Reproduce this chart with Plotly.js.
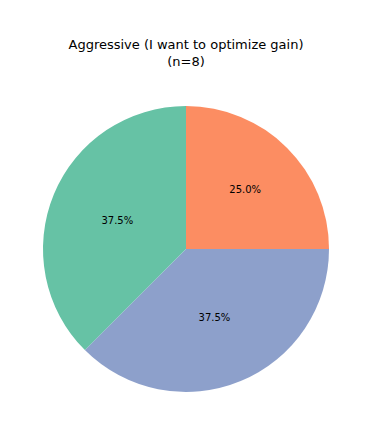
<!DOCTYPE html>
<html>
<head>
<meta charset="utf-8">
<script src="https://cdn.plot.ly/plotly-3.0.1.min.js"></script>
<style>html,body{margin:0;padding:0;background:#fff;}#chart{width:375px;height:435px;}</style>
</head>
<body>
<div id="chart"></div>
<script>
const categories = ["Category 3", "Category 2", "Category 1"];
const counts = [2, 3, 3];
const colors = ["#fc8d62", "#8da0cb", "#66c2a5"];
const titleText = "Aggressive (I want to optimize gain)<br>(n=8)";

const trace = {
  type: "pie",
  labels: categories,
  values: counts,
  marker: { colors: colors, line: { width: 0 } },
  sort: false,
  direction: "clockwise",
  rotation: 0,
  textinfo: "percent",
  texttemplate: "%{percent:.1%}",
  textposition: "inside",
  insidetextorientation: "horizontal",
  textfont: { family: "DejaVu Sans", size: 10, color: "#000000" },
  showlegend: false,
  hoverinfo: "label+value+percent"
};

const layout = {
  width: 375,
  height: 435,
  margin: { l: 43, r: 46, t: 106, b: 43 },
  paper_bgcolor: "#ffffff",
  plot_bgcolor: "#ffffff",
  title: {
    text: titleText,
    font: { family: "DejaVu Sans", size: 13, color: "#000000" },
    x: 0.496,
    xanchor: "center",
    y: 1 - 49/435,
    yanchor: "top"
  },
  showlegend: false
};

Plotly.newPlot("chart", [trace], layout, { displayModeBar: false, staticPlot: true });
</script>
</body>
</html>
